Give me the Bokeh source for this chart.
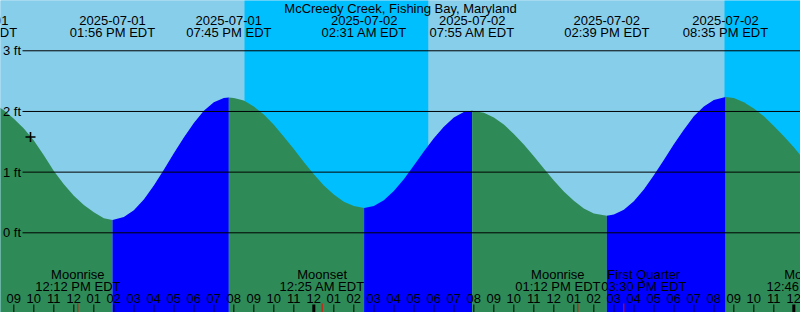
import datetime as dt
from bokeh.plotting import figure
from bokeh.models import Range1d
from bokeh.core.properties import value
from bokeh.embed import file_html
from bokeh.resources import INLINE

# ---------------- data ----------------
title_text = "McCreedy Creek, Fishing Bay, Maryland"

# tide height (ft); hours since 2025-07-01 00:00 EDT
curve_hours = [8, 8.5, 9, 9.5, 10, 10.5, 11, 11.5, 12, 12.5, 13, 13.5,
               14.5, 15, 15.5, 16, 16.5, 17, 17.5, 18, 18.5, 19, 19.5,
               20, 20.5, 21, 21.5, 22, 22.5, 23, 23.5, 24, 24.5, 25, 25.5, 26,
               27, 27.5, 28, 28.5, 29, 29.5, 30, 30.5, 31, 31.5,
               32.5, 33, 33.5, 34, 34.5, 35, 35.5, 36, 36.5, 37, 37.5, 38,
               39, 39.5, 40, 40.5, 41, 41.5, 42, 42.5, 43, 43.5, 44,
               45, 45.5, 46, 46.5, 47, 47.5, 48, 48.5, 49]
curve_heights = [2.13, 2.02, 1.88, 1.72, 1.52, 1.28, 1.02, 0.80, 0.61, 0.46, 0.34, 0.24,
                 0.26, 0.37, 0.55, 0.78, 1.04, 1.31, 1.57, 1.81, 2.01, 2.15, 2.22,
                 2.22, 2.18, 2.08, 1.95, 1.78, 1.585, 1.38, 1.167, 0.965, 0.781, 0.63, 0.51, 0.44,
                 0.44, 0.536, 0.69, 0.884, 1.11, 1.34, 1.56, 1.75, 1.90, 1.99,
                 1.98, 1.90, 1.785, 1.63, 1.456, 1.26, 1.059, 0.86, 0.68, 0.53, 0.40, 0.32,
                 0.30, 0.378, 0.52, 0.714, 0.95, 1.20, 1.46, 1.70, 1.92, 2.08, 2.19,
                 2.22, 2.15, 2.05, 1.92, 1.76, 1.59, 1.41, 1.21, 1.00]

# high / low tide events
tide_event_times = ["2025-07-01 07:04", "2025-07-01 13:56", "2025-07-01 19:45",
                    "2025-07-02 02:31", "2025-07-02 07:55", "2025-07-02 14:39",
                    "2025-07-02 20:35"]
tide_event_heights = [2.21, 0.21, 2.23, 0.41, 2.01, 0.28, 2.24]

# sun: sunset / sunrise
sunset_times = ["2025-07-01 20:32", "2025-07-02 20:32"]
sunrise_times = ["2025-07-02 05:44"]

# moon events
moon_names = ["Moonrise", "Moonset", "Moonrise", "First Quarter", "Moonset"]
moon_times = ["2025-07-01 12:12", "2025-07-02 00:25", "2025-07-02 13:12",
              "2025-07-02 15:30", "2025-07-03 00:46"]

# current position marker
now_time = "2025-07-01 09:50"
now_height = 1.58

y_levels = [0, 1, 2, 3]
y_labels = ["0 ft", "1 ft", "2 ft", "3 ft"]

# ---------------- helpers ----------------
BASE = dt.datetime(2025, 7, 1)


def parse(s):
    return dt.datetime.strptime(s, "%Y-%m-%d %H:%M")


def hrs(s):
    return (parse(s) - BASE).total_seconds() / 3600.0


W, H = 800, 312
PX_PER_HOUR = 20.0
X0 = 8 + 20 / 60.0
X1 = X0 + W / PX_PER_HOUR
PX_PER_FT = 60.67
ZERO_PX = 232.3
Y_TOP = ZERO_PX / PX_PER_FT
Y_BOT = -(H - ZERO_PX) / PX_PER_FT


def ypx(px):
    return Y_TOP - px / PX_PER_FT


def xpx(px):
    return X0 + px / PX_PER_HOUR


FONT = value("Liberation Sans")
FS = "13px"

p = figure(width=W, height=H, x_range=Range1d(X0, X1), y_range=Range1d(Y_BOT, Y_TOP),
           output_backend="svg", toolbar_location=None, min_border=0,
           x_axis_location=None, y_axis_location=None)
p.grid.visible = False
p.outline_line_color = None
p.background_fill_color = "#87CEEB"
p.border_fill_color = "#87CEEB"

# ---------------- sky ----------------
DAY, NIGHT = "#87CEEB", "#00BFFF"
ss = [hrs(s) for s in sunset_times]
sr = [hrs(s) for s in sunrise_times]
edges = sorted([(t, "night") for t in ss] + [(t, "day") for t in sr])
start, state = X0 - 1, "day"
lefts, rights, cols = [], [], []
for t, nxt in edges:
    lefts.append(start); rights.append(t); cols.append(DAY if state == "day" else NIGHT)
    start, state = t, nxt
lefts.append(start); rights.append(X1 + 1); cols.append(DAY if state == "day" else NIGHT)
p.quad(left=lefts, right=rights, bottom=Y_BOT - 1, top=Y_TOP + 1, fill_color=cols,
       line_color=None)

# ---------------- tide fill ----------------
ev_t = [hrs(s) for s in tide_event_times]
pts = sorted(list(zip(curve_hours, curve_heights)) + list(zip(ev_t, tide_event_heights)))
bounds = [pts[0][0] - 1e-9] + ev_t + [pts[-1][0] + 1e-9]
GREEN, BLUE = "#2E8B57", "#0000FF"
for i in range(len(bounds) - 1):
    a, b = bounds[i], bounds[i + 1]
    seg = [(t, h) for t, h in pts if a - 1e-6 <= t <= b + 1e-6]
    if len(seg) < 2:
        continue
    falling = seg[0][1] > seg[-1][1]
    p.varea(x=[s[0] for s in seg], y1=Y_BOT - 1, y2=[s[1] for s in seg],
            fill_color=GREEN if falling else BLUE)

# ---------------- height lines & labels ----------------
p.segment(x0=xpx(22), y0=y_levels, x1=X1 + 1, y1=y_levels, line_color="black", line_width=1)
p.text(x=xpx(2.5), y=y_levels, text=y_labels, text_font=FONT, text_font_size=FS,
       text_align="left", text_baseline="middle", text_color="black")

# current marker
p.scatter(x=[hrs(now_time)], y=[now_height], marker="cross", size=10, line_width=1.6,
          line_color="black")

# ---------------- top labels ----------------
p.text(x=[(X0 + X1) / 2], y=[ypx(8)], text=[title_text], text_font=FONT, text_font_size=FS,
       text_align="center", text_baseline="alphabetic", text_color="black")
ev_dates = [parse(s).strftime("%Y-%m-%d") for s in tide_event_times]
ev_clock = [parse(s).strftime("%I:%M %p") + " EDT" for s in tide_event_times]
p.text(x=ev_t, y=ypx(20), text=ev_dates, text_font=FONT, text_font_size=FS,
       text_align="center", text_baseline="alphabetic", text_color="black")
p.text(x=ev_t, y=ypx(32), text=ev_clock, text_font=FONT, text_font_size=FS,
       text_align="center", text_baseline="alphabetic", text_color="black")

# ---------------- moon labels ----------------
m_t = [hrs(s) for s in moon_times]
m_px = [(t - X0) * PX_PER_HOUR for t in m_t]
MIN_SEP = 86.0
for i in range(len(m_px) - 1):
    if m_px[i + 1] - m_px[i] < MIN_SEP:
        mid = (m_px[i] + m_px[i + 1]) / 2
        m_px[i], m_px[i + 1] = mid - MIN_SEP / 2, mid + MIN_SEP / 2
m_lx = [xpx(v) for v in m_px]
m_clock = [parse(s).strftime("%I:%M %p") + " EDT" for s in moon_times]
p.text(x=m_lx, y=ypx(274), text=moon_names, text_font=FONT, text_font_size=FS,
       text_align="center", text_baseline="alphabetic", text_color="black")
p.text(x=m_lx, y=ypx(286), text=m_clock, text_font=FONT, text_font_size=FS,
       text_align="center", text_baseline="alphabetic", text_color="black")

# ---------------- hour ticks ----------------
hours = list(range(9, 49))
hour_labels = ["%02d" % ((h % 12) or 12) for h in hours]
p.text(x=hours, y=ypx(298), text=hour_labels, text_font=FONT, text_font_size=FS,
       text_align="center", text_baseline="alphabetic", text_color="black")
normal = [h for h in hours if h % 24 != 0]
midnight = [h for h in hours if h % 24 == 0]
p.segment(x0=normal, y0=ypx(304), x1=normal, y1=Y_BOT, line_color="black", line_width=1)
p.segment(x0=midnight, y0=ypx(304), x1=midnight, y1=Y_BOT, line_color="black", line_width=3)
p.segment(x0=m_t, y0=ypx(303), x1=m_t, y1=Y_BOT, line_color="red", line_width=1)

open("out.html", "w").write(file_html(p, INLINE))
